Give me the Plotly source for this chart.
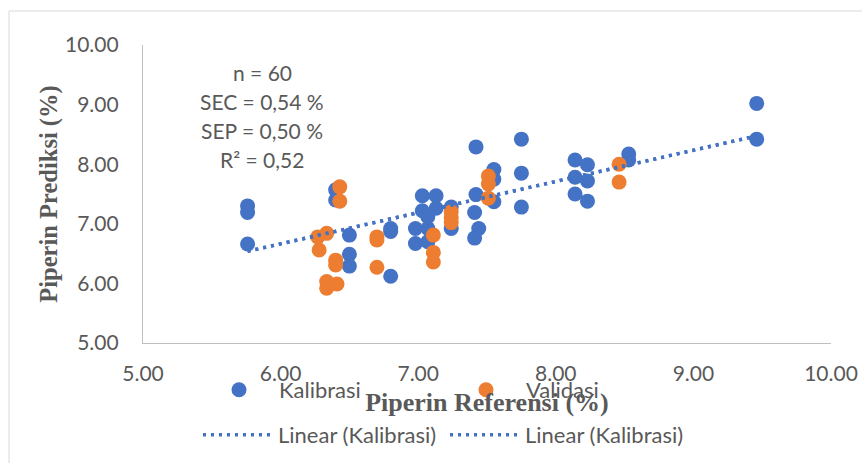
import numpy as np
import plotly.graph_objects as go

# Kalibrasi (calibration) data
kal_x = [5.76, 5.76, 5.76, 6.40, 6.40, 6.50, 6.50, 6.50, 6.80, 6.80, 6.80,
         7.03, 7.13, 7.03, 7.13, 6.98, 6.98, 7.07, 7.07, 7.07, 7.24, 7.24,
         7.42, 7.42, 7.41, 7.44, 7.41, 7.55, 7.55, 7.55, 7.75, 7.75, 7.75,
         8.14, 8.14, 8.14, 8.23, 8.23, 8.23, 8.53, 8.53, 9.46, 9.46]
kal_y = [7.30, 7.19, 6.66, 7.57, 7.40, 6.81, 6.49, 6.29, 6.92, 6.87, 6.12,
         7.47, 7.47, 7.22, 7.26, 6.92, 6.67, 6.92, 6.70, 7.12, 7.28, 6.92,
         8.29, 7.49, 7.19, 6.92, 6.76, 7.91, 7.75, 7.37, 8.42, 7.85, 7.28,
         8.07, 7.78, 7.50, 7.99, 7.72, 7.38, 8.17, 8.07, 9.02, 8.42]

# Validasi (validation) data
val_x = [6.43, 6.43, 6.27, 6.335, 6.28, 6.40, 6.40, 6.335, 6.41, 6.335,
         6.70, 6.70, 6.70, 7.11, 7.11, 7.11, 7.24, 7.24, 7.24,
         7.51, 7.51, 7.51, 8.46, 8.46]
val_y = [7.62, 7.38, 6.78, 6.84, 6.56, 6.39, 6.31, 6.03, 5.99, 5.92,
         6.78, 6.73, 6.27, 6.81, 6.52, 6.36, 7.20, 7.11, 7.02,
         7.80, 7.67, 7.43, 8.00, 7.70]

tick_vals = [5, 6, 7, 8, 9, 10]
tick_text = ["5.00", "6.00", "7.00", "8.00", "9.00", "10.00"]
stats_lines = ["n = 60", "SEC = 0,54 %", "SEP = 0,50 %", "R² = 0,52"]

BLUE = "#4472C4"
ORANGE = "#ED7D31"
GREY = "#595959"
FONT = "Lato"

# linear trend of Kalibrasi
slope, intercept = np.polyfit(kal_x, kal_y, 1)
tx = np.array([min(kal_x), max(kal_x)])
ty = slope * tx + intercept

fig = go.Figure()
fig.add_trace(go.Scatter(x=kal_x, y=kal_y, mode="markers", name="Kalibrasi",
                         marker=dict(color=BLUE, size=15), legend="legend",
                         showlegend=True))
fig.add_trace(go.Scatter(x=val_x, y=val_y, mode="markers", name="Validasi",
                         marker=dict(color=ORANGE, size=15), legend="legend2",
                         showlegend=True))
fig.add_trace(go.Scatter(x=tx, y=ty, mode="lines", name="Linear (Kalibrasi)",
                         line=dict(color=BLUE, width=3.5, dash="3px,5px"),
                         legend="legend3", showlegend=True))
fig.add_trace(go.Scatter(x=tx, y=ty, mode="lines", name="Linear (Kalibrasi)",
                         line=dict(color=BLUE, width=3.5, dash="3px,5px"),
                         legend="legend4", hoverinfo="skip", showlegend=True))

L, R, T, B = 143, 31, 45, 120
W, H = 862, 463
pw, ph = W - L - R, H - T - B

def px(x):
    return (x - L) / pw

def py(y):
    return (H - B - y) / ph

annotations = []
for i, line in enumerate(stats_lines):
    annotations.append(dict(text=line, xref="paper", yref="paper",
                            x=px(262), y=py(72 + 29.3 * i), showarrow=False,
                            xanchor="center", yanchor="middle",
                            font=dict(family=FONT, size=21, color=GREY)))

def leg(x, y):
    return dict(orientation="h", x=px(x), y=py(y), xanchor="left",
                yanchor="middle", itemwidth=70,
                font=dict(family=FONT, size=22, color=GREY),
                bgcolor="rgba(0,0,0,0)")

fig.update_layout(
    width=W, height=H,
    showlegend=True,
    margin=dict(l=L, r=R, t=T, b=B, autoexpand=False),
    paper_bgcolor="white", plot_bgcolor="white",
    font=dict(family=FONT, color=GREY),
    xaxis=dict(range=[5, 10], tickvals=tick_vals, ticktext=tick_text,
               showgrid=False, zeroline=False, showline=True, automargin=False,
               linecolor="#BFBFBF", linewidth=1.3, ticks="",
               ticklabelstandoff=12,
               tickfont=dict(family=FONT, size=21, color=GREY),
               title=dict(text="<b>Piperin Referensi (%)</b>", standoff=8,
                          font=dict(family="Liberation Serif", size=26, color=GREY))),
    yaxis=dict(range=[5, 10], tickvals=tick_vals, ticktext=tick_text,
               showgrid=False, zeroline=False, showline=True, automargin=False,
               linecolor="#BFBFBF", linewidth=1.3, ticks="",
               ticklabelstandoff=19,
               tickfont=dict(family=FONT, size=21, color=GREY),
               title=dict(text="<b>Piperin Prediksi (%)</b>", standoff=0,
                          font=dict(family="Liberation Serif", size=24.5, color=GREY))),
    legend=leg(199, 390),
    legend2=leg(446, 390),
    legend3=leg(198, 435),
    legend4=leg(445, 435),
    annotations=annotations,
    shapes=[dict(type="rect", xref="paper", yref="paper",
                 x0=px(9), x1=px(900), y0=py(500), y1=py(11),
                 line=dict(color="#D9D9D9", width=1), layer="below")],
)

fig.write_html("out.html")
